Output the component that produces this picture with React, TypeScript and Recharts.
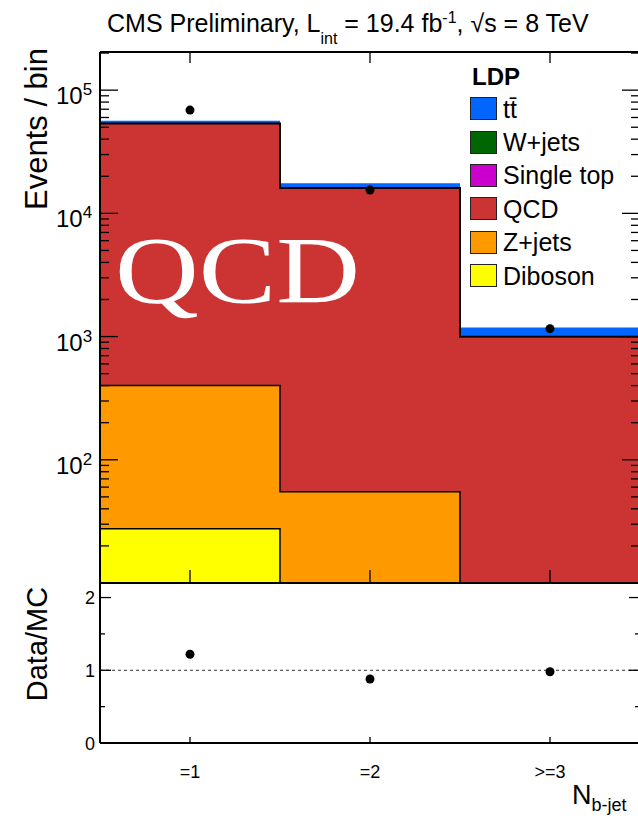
import React from "react";
import { ComposedChart, Bar, Line, XAxis, YAxis, ReferenceLine, Legend } from "recharts";

const FONT = "'Liberation Sans', Arial, Helvetica, sans-serif";

// N_b-jet bins
const bins = ["=1", "=2", ">=3"];

// background expectation per bin (events)
const diboson = [27.6, 4, 1];
const zjets = [373, 51, 6];
const qcd = [53100, 15920, 977];
const singleTop = [40, 25, 6];
const wjets = [180, 60, 5];
const ttbar = [2700, 1480, 188];

// observed events and data/MC
const observed = [68900, 15470, 1160];
const ratio = [1.22, 0.88, 0.98];

// histogram bin edges on the N_b-jet axis
const binEdges = [0.5, 1.5, 2.5, 3.5];

const logMajorTicks = [100, 1000, 10000, 100000];
const logMinorSteps = [2, 3, 4, 5, 6, 7, 8, 9];
const logDecades = [10, 100, 1000, 10000, 100000];
const ratioTicks = [0, 0.5, 1, 1.5, 2];

const Y_MIN = 10;
const Y_MAX = 204000;

type Sample = { key: string; name: string; color: string; values: number[] };

// stacked from the bottom up
const stack: Sample[] = [
  { key: "diboson", name: "Diboson", color: "#ffff00", values: diboson },
  { key: "zjets", name: "Z+jets", color: "#ff9900", values: zjets },
  { key: "qcd", name: "QCD", color: "#cc3333", values: qcd },
  { key: "singleTop", name: "Single top", color: "#cc00cc", values: singleTop },
  { key: "wjets", name: "W+jets", color: "#006600", values: wjets },
  { key: "ttbar", name: "t\u0074\u0304", color: "#0066ff", values: ttbar },
];

const legendOrder = ["ttbar", "wjets", "singleTop", "qcd", "zjets", "diboson"].map(
  (k) => stack.find((s) => s.key === k)!
);

const rows = bins.map((bin, i) => {
  const row: Record<string, any> = { bin, data: observed[i], ratio: ratio[i] };
  stack.forEach((s) => (row[s.key] = s.values[i]));
  return row;
});

const sumOf = (keys: string[]) =>
  bins.map((_, i) => stack.filter((s) => keys.includes(s.key)).reduce((a, s) => a + s.values[i], 0));

// black step outlines on top of the filled histograms
const outlines = [
  { key: "dibosonTop", values: sumOf(["diboson"]), width: 1.5 },
  { key: "zjetsTop", values: sumOf(["diboson", "zjets"]), width: 1.5 },
  { key: "bkgTop", values: sumOf(["diboson", "zjets", "qcd", "singleTop", "wjets"]), width: 2 },
];

const outlineRows = binEdges.map((x, j) => {
  const row: Record<string, number> = { x };
  outlines.forEach((o) => (row[o.key] = o.values[Math.min(j, bins.length - 1)]));
  return row;
});

const logTicks = [
  ...logMajorTicks,
  ...logDecades.flatMap((d) => logMinorSteps.map((s) => d * s)).filter((v) => v <= Y_MAX),
];

type TickProps = { x: number; y: number; payload: { value: any } };

function LogTick({ x, y, payload, side }: TickProps & { side: "left" | "right" }) {
  const v = payload.value as number;
  const major = logMajorTicks.includes(v);
  const dir = side === "left" ? 1 : -1;
  return (
    <g>
      <line x1={x} y1={y} x2={x + dir * (major ? 18 : 9)} y2={y} stroke="#000" strokeWidth={1.3} />
      {major && side === "left" && (
        <text x={x - 44} y={y + 14} fontFamily={FONT} fontSize={24} fill="#000">
          10
          <tspan dy={-9} fontSize={17}>
            {Math.round(Math.log10(v))}
          </tspan>
        </text>
      )}
    </g>
  );
}

function RatioTick({ x, y, payload, side }: TickProps & { side: "left" | "right" }) {
  const v = payload.value as number;
  const major = Number.isInteger(v);
  const dir = side === "left" ? 1 : -1;
  return (
    <g>
      <line x1={x} y1={y} x2={x + dir * (major ? 11 : 5)} y2={y} stroke="#000" strokeWidth={1.3} />
      {major && side === "left" && (
        <text x={x - 5} y={y + 6.5} textAnchor="end" fontFamily={FONT} fontSize={18} fill="#000">
          {v}
        </text>
      )}
    </g>
  );
}

function BinTick({ x, y, len, payload, showLabel }: TickProps & { len: number; showLabel?: boolean }) {
  return (
    <g>
      <line x1={x} y1={y} x2={x} y2={y + len} stroke="#000" strokeWidth={1.3} />
      {showLabel && (
        <text x={x} y={y + 35} textAnchor="middle" fontFamily={FONT} fontSize={18} fill="#000">
          {payload.value}
        </text>
      )}
    </g>
  );
}

function LegendBox() {
  return (
    <div style={{ fontFamily: FONT, color: "#000" }}>
      <div style={{ fontWeight: "bold", fontSize: 24, lineHeight: "30px", marginLeft: 2 }}>LDP</div>
      {legendOrder.map((s) => (
        <div key={s.key} style={{ display: "flex", alignItems: "center", height: 33.4 }}>
          <span
            style={{
              boxSizing: "border-box",
              width: 27,
              height: 23,
              background: s.color,
              border: "1px solid #222",
            }}
          />
          <span style={{ marginLeft: 6, fontSize: 25, lineHeight: "28px" }}>{s.name}</span>
        </div>
      ))}
    </div>
  );
}

const frame = { stroke: "#000", strokeWidth: 2 };

// axes get a 1px band so that their lines and ticks are drawn
const axisBand = {
  interval: 0 as const,
  tickSize: 0,
  tickMargin: 0,
  tickLine: false,
  axisLine: frame,
};

export default function App() {
  return (
    <div
      style={{
        position: "fixed",
        left: 0,
        top: 0,
        width: 638,
        height: 819,
        overflow: "hidden",
        background: "#fff",
      }}
    >
      <div style={{ position: "absolute", left: 0, top: 0 }}>
        <ComposedChart
          width={700}
          height={600}
          data={rows}
          margin={{ top: 51, right: 59, bottom: 16, left: 99 }}
          barCategoryGap={0}
          barGap={0}
        >
          {stack.map((s) => (
            <Bar key={s.key} dataKey={s.key} stackId="mc" fill={s.color} isAnimationActive={false} />
          ))}
          {outlines.map((o) => (
            <Line
              key={o.key}
              data={outlineRows}
              xAxisId="edges"
              dataKey={o.key}
              type="stepAfter"
              stroke="#000"
              strokeWidth={o.width}
              dot={false}
              activeDot={false}
              isAnimationActive={false}
            />
          ))}
          <Line
            dataKey="data"
            stroke="none"
            dot={{ r: 4.5, fill: "#000", stroke: "#000", strokeWidth: 0 }}
            activeDot={false}
            isAnimationActive={false}
          />
          <XAxis xAxisId="edges" type="number" dataKey="x" domain={[0.5, 3.5]} hide />
          <XAxis dataKey="bin" height={1} {...axisBand} tick={(p: any) => <BinTick {...p} len={-13} />} />
          <XAxis
            xAxisId="top"
            orientation="top"
            dataKey="bin"
            height={1}
            {...axisBand}
            tick={(p: any) => <BinTick {...p} len={11} />}
          />
          <YAxis
            scale="log"
            domain={[Y_MIN, Y_MAX]}
            allowDataOverflow
            ticks={logTicks}
            width={1}
            {...axisBand}
            tick={(p: any) => <LogTick {...p} side="left" />}
          />
          <YAxis
            yAxisId="right"
            orientation="right"
            scale="log"
            domain={[Y_MIN, Y_MAX]}
            allowDataOverflow
            ticks={logTicks}
            width={1}
            {...axisBand}
            tick={(p: any) => <LogTick {...p} side="right" />}
          />
          <Legend
            layout="horizontal"
            verticalAlign="middle"
            wrapperStyle={{ left: 470, top: 62, width: 168 }}
            content={() => <LegendBox />}
          />
        </ComposedChart>
      </div>

      <div style={{ position: "absolute", left: 0, top: 560 }}>
        <ComposedChart
          width={700}
          height={259}
          data={rows}
          margin={{ top: 23, right: 59, bottom: 75, left: 99 }}
        >
          <ReferenceLine y={1} stroke="#333" strokeDasharray="3 3" strokeWidth={1} />
          <Line
            dataKey="ratio"
            stroke="none"
            dot={{ r: 4.5, fill: "#000", stroke: "#000", strokeWidth: 0 }}
            activeDot={false}
            isAnimationActive={false}
          />
          <XAxis
            dataKey="bin"
            scale="band"
            height={1}
            {...axisBand}
            tick={(p: any) => <BinTick {...p} len={-6} showLabel />}
          />
          <YAxis
            domain={[0, 2.2]}
            allowDataOverflow
            ticks={ratioTicks}
            width={1}
            {...axisBand}
            tick={(p: any) => <RatioTick {...p} side="left" />}
          />
          <YAxis
            yAxisId="right"
            orientation="right"
            domain={[0, 2.2]}
            allowDataOverflow
            ticks={ratioTicks}
            width={1}
            {...axisBand}
            tick={(p: any) => <RatioTick {...p} side="right" />}
          />
        </ComposedChart>
      </div>

      <svg
        width={638}
        height={819}
        style={{ position: "absolute", left: 0, top: 0, pointerEvents: "none" }}
        fontFamily={FONT}
      >
        <text x={107} y={32} fontSize={25} fill="#000">
          CMS Preliminary, L
          <tspan fontSize={16} dy={12}>
            int
          </tspan>
          <tspan dy={-12}> = 19.4 fb</tspan>
          <tspan fontSize={16} dy={-9}>
            -1
          </tspan>
          <tspan dy={9}>, √s = 8 TeV</tspan>
        </text>
        <text transform="translate(47,129) rotate(-90)" textAnchor="middle" fontSize={31} fill="#000">
          Events / bin
        </text>
        <text transform="translate(47,644) rotate(-90)" textAnchor="middle" fontSize={29} fill="#000">
          Data/MC
        </text>
        <text x={572} y={804} fontSize={27} fill="#000">
          N
          <tspan fontSize={18} dy={7}>
            b-jet
          </tspan>
        </text>
        <text
          x={115}
          y={303}
          fontFamily="'Liberation Serif', 'Times New Roman', serif"
          fontSize={95}
          textLength={245}
          lengthAdjust="spacingAndGlyphs"
          fill="#fff"
        >
          QCD
        </text>
      </svg>
    </div>
  );
}
